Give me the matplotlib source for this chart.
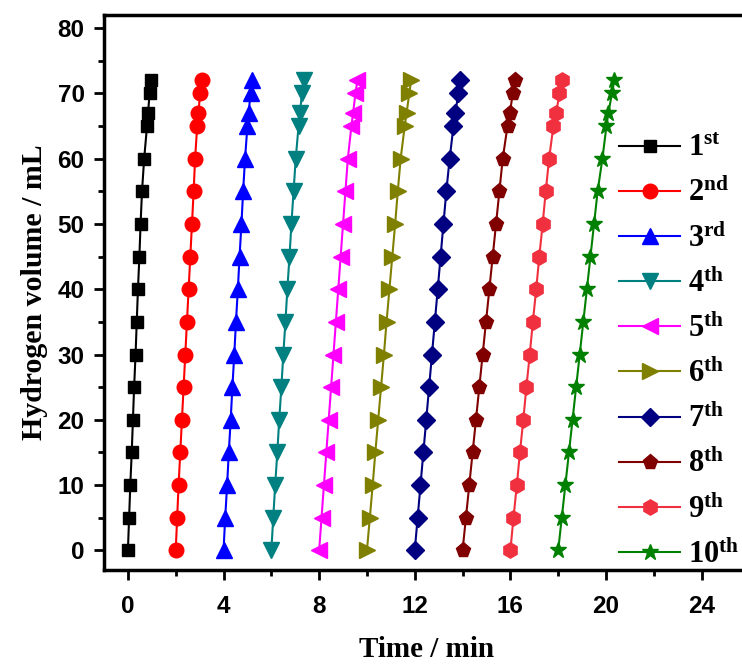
from matplotlib import pyplot as plt
from matplotlib.ticker import MultipleLocator

volume = [0, 5, 10, 15, 20, 25, 30, 35, 40, 45, 50, 55, 60, 65, 67, 70, 72]

t1 = [0.0, 0.05, 0.10, 0.16, 0.21, 0.26, 0.32, 0.37, 0.42, 0.48, 0.53, 0.59, 0.68, 0.80, 0.84, 0.91, 0.95]
t2 = [2.0, 2.06, 2.12, 2.19, 2.26, 2.33, 2.40, 2.47, 2.54, 2.61, 2.68, 2.75, 2.81, 2.90, 2.95, 3.02, 3.08]
t3 = [4.0, 4.07, 4.15, 4.22, 4.30, 4.37, 4.45, 4.52, 4.60, 4.67, 4.75, 4.82, 4.90, 5.00, 5.05, 5.13, 5.20]
t4 = [6.0, 6.08, 6.16, 6.25, 6.33, 6.42, 6.50, 6.59, 6.67, 6.76, 6.84, 6.93, 7.02, 7.14, 7.20, 7.28, 7.35]
t5 = [8.0, 8.10, 8.20, 8.30, 8.40, 8.50, 8.60, 8.70, 8.80, 8.90, 9.00, 9.10, 9.20, 9.35, 9.42, 9.52, 9.60]
t6 = [10.0, 10.12, 10.24, 10.35, 10.47, 10.59, 10.71, 10.82, 10.94, 11.06, 11.18, 11.29, 11.41, 11.58, 11.66, 11.77, 11.85]
t7 = [12.0, 12.12, 12.24, 12.36, 12.48, 12.60, 12.72, 12.84, 12.96, 13.08, 13.20, 13.32, 13.46, 13.62, 13.70, 13.82, 13.90]
t8 = [14.0, 14.14, 14.28, 14.42, 14.56, 14.70, 14.84, 14.98, 15.12, 15.26, 15.40, 15.54, 15.68, 15.88, 15.98, 16.10, 16.20]
t9 = [16.0, 16.13, 16.27, 16.40, 16.54, 16.67, 16.81, 16.94, 17.08, 17.21, 17.35, 17.48, 17.62, 17.80, 17.92, 18.05, 18.15]
t10 = [18.0, 18.15, 18.30, 18.45, 18.60, 18.75, 18.90, 19.05, 19.20, 19.35, 19.50, 19.65, 19.85, 20.02, 20.10, 20.25, 20.35]

times = [t1, t2, t3, t4, t5, t6, t7, t8, t9, t10]
labels = ['1^{st}', '2^{nd}', '3^{rd}', '4^{th}', '5^{th}',
          '6^{th}', '7^{th}', '8^{th}', '9^{th}', '10^{th}']
colors = ['#000000', '#FF0000', '#0000FF', '#008080', '#FF00FF',
          '#808000', '#000080', '#800000', '#F0303F', '#008000']
markers = ['s', 'o', '^', 'v', '<', '>', 'D', 'p', 'h', '*']
sizes = [9, 10.5, 11, 11, 11, 11, 9, 11, 11, 12]

plt.rcParams['mathtext.fontset'] = 'custom'
plt.rcParams['mathtext.bf'] = 'Liberation Serif:bold'
plt.rcParams['mathtext.rm'] = 'Liberation Serif:bold'

fig = plt.figure(figsize=(7.42, 6.64), dpi=100)
ax = fig.add_axes([104/742, 94/664, 1 - 104/742 + 0.01, 555/664])

for i in range(10):
    ax.plot(times[i], volume, color=colors[i], marker=markers[i], markersize=sizes[i],
            linewidth=1.5, label=r'$\mathbf{' + labels[i] + '}$')

ax.set_xlim(-1, 26)
ax.set_ylim(-3, 82)
ax.xaxis.set_major_locator(MultipleLocator(4))
ax.xaxis.set_minor_locator(MultipleLocator(2))
ax.yaxis.set_major_locator(MultipleLocator(10))
ax.yaxis.set_minor_locator(MultipleLocator(5))
ax.tick_params(which='major', direction='out', length=7, width=2, labelsize=17.5)
ax.tick_params(which='minor', direction='out', length=4, width=2)
ax.tick_params(axis='x', which='major', pad=11)
ax.tick_params(axis='y', which='major', pad=7)
for lab in ax.get_xticklabels() + ax.get_yticklabels():
    lab.set_fontfamily('Liberation Sans')
    lab.set_fontweight('bold')
for sp in ['left', 'bottom', 'top']:
    ax.spines[sp].set_linewidth(2.5)
ax.spines['right'].set_visible(False)

ax.set_xlabel('Time / min', fontfamily='Liberation Serif', fontweight='bold', fontsize=21, labelpad=13)
ax.set_ylabel('Hydrogen volume / mL', fontfamily='Liberation Serif', fontweight='bold', fontsize=21.5, labelpad=7)

leg = ax.legend(loc='upper left', bbox_to_anchor=(0.779, 0.809), frameon=False, fontsize=22,
                handlelength=2.0, labelspacing=0.5, handletextpad=0.25, borderaxespad=0)

fig.savefig('out.png', dpi=100)
